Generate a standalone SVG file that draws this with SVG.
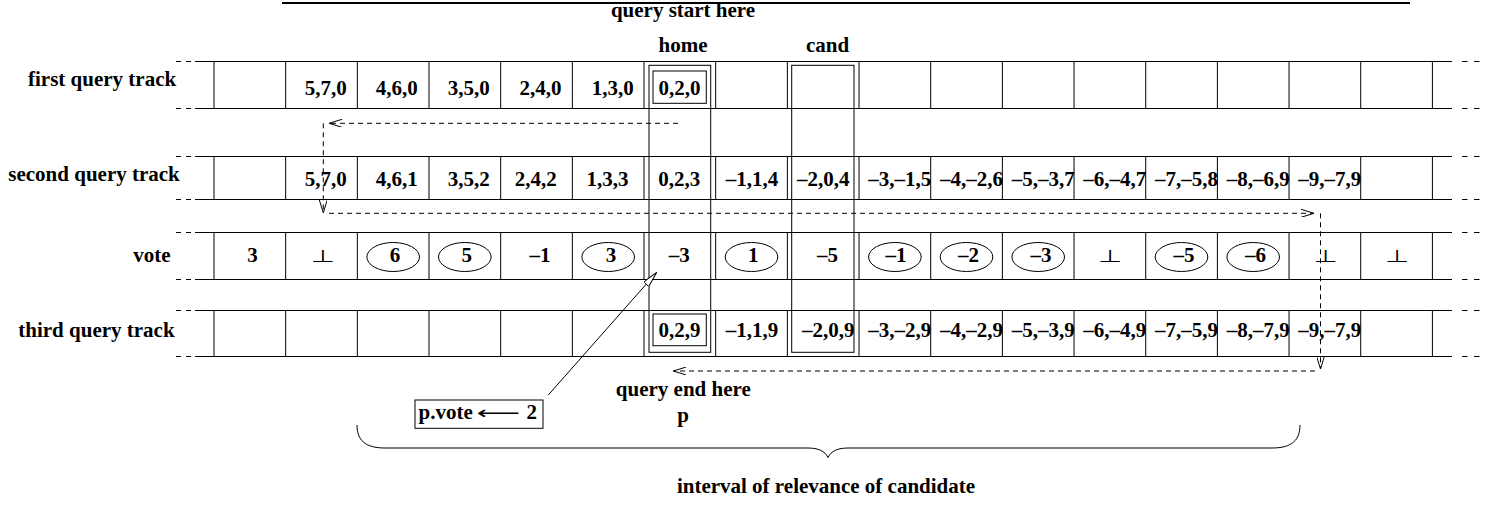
<svg xmlns="http://www.w3.org/2000/svg" width="1498" height="507" viewBox="0 0 1498 507">
  <style>
    .t { font-family: "Liberation Serif", "Times New Roman", serif; font-weight: bold; font-size: 21px; fill: #000; }
    .m { text-anchor: middle; }
    .bot { font-family: "DejaVu Sans", sans-serif; font-weight: normal; font-size: 19px; fill: #000; text-anchor: middle; }
    .cell { fill: none; stroke: #000; stroke-width: 1; }
    .ext { fill: none; stroke: #000; stroke-width: 1; }
    .col { fill: none; stroke: #000; stroke-width: 1; }
    .dash { fill: none; stroke: #000; stroke-width: 1; stroke-dasharray: 5 4; }
    .ell { fill: #fff; stroke: #000; stroke-width: 1; }
  </style>
  <defs>
    <marker id="open" viewBox="0 0 13 8" refX="13" refY="4" markerWidth="13" markerHeight="8" markerUnits="userSpaceOnUse" orient="auto">
      <path d="M0,0 L13,4 L0,8" fill="none" stroke="#000" stroke-width="1"/>
    </marker>
    <marker id="hollow" viewBox="0 0 16 7" refX="16" refY="3.5" markerWidth="16" markerHeight="7" markerUnits="userSpaceOnUse" orient="auto">
      <path d="M0,0 L16,3.5 L0,7 Z" fill="#fff" stroke="#000" stroke-width="1"/>
    </marker>
    <!-- cell dividers shared by all four tracks (relative to track top) -->
    <path id="dividers" d="M285.67,0 V1 M357.34,0 V1 M429.01,0 V1 M500.68,0 V1 M572.35,0 V1 M644.02,0 V1 M715.69,0 V1 M787.36,0 V1 M859.03,0 V1 M930.7,0 V1 M1002.37,0 V1 M1074.04,0 V1 M1145.71,0 V1 M1217.38,0 V1 M1289.05,0 V1 M1360.72,0 V1"/>
    <!-- dashed continuation of a track edge on both sides -->
    <path id="edge" d="M176,0 h5 M186,0 h5 M195,0 H214 M1432.4,0 H1452 M1462,0 h5.5 M1474,0 h5.5"/>
  </defs>

  <!-- heading rule -->
  <line x1="282" y1="3" x2="1410" y2="3" stroke="#000" stroke-width="2"/>
  <text class="t m" x="683" y="17">query start here</text>
  <text class="t m" x="683" y="52.3">home</text>
  <text class="t m" x="827.5" y="52.3">cand</text>

  <!-- first query track -->
  <g id="track-first">
    <text class="t" x="28" y="85.5">first query track</text>
    <use href="#edge" class="ext" transform="translate(0,61.5)"/>
    <use href="#edge" class="ext" transform="translate(0,108.5)"/>
    <rect class="cell" x="214" y="61.5" width="1218.4" height="47"/>
    <use href="#dividers" class="cell" transform="translate(0,61.5) scale(1,47)" style="stroke-width:1;vector-effect:non-scaling-stroke"/>
    <text class="t m" x="325.8" y="95">5,7,0</text>
    <text class="t m" x="396.8" y="95">4,6,0</text>
    <text class="t m" x="468.8" y="95">3,5,0</text>
    <text class="t m" x="540.5" y="95">2,4,0</text>
    <text class="t m" x="612.8" y="95">1,3,0</text>
    <rect class="col" x="653" y="71" width="53.3" height="32.3"/>
    <text class="t m" x="679.5" y="95">0,2,0</text>
  </g>

  <!-- second query track -->
  <g id="track-second">
    <text class="t" x="8.3" y="180.7">second query track</text>
    <use href="#edge" class="ext" transform="translate(0,156.5)"/>
    <use href="#edge" class="ext" transform="translate(0,199.5)"/>
    <rect class="cell" x="214" y="156.5" width="1218.4" height="43"/>
    <use href="#dividers" class="cell" transform="translate(0,156.5) scale(1,43)" style="stroke-width:1;vector-effect:non-scaling-stroke"/>
    <text class="t m" x="325.8" y="186">5,7,0</text>
    <text class="t m" x="396.7" y="186">4,6,1</text>
    <text class="t m" x="468.8" y="186">3,5,2</text>
    <text class="t m" x="535.8" y="186">2,4,2</text>
    <text class="t m" x="607.5" y="186">1,3,3</text>
    <text class="t m" x="679.3" y="186">0,2,3</text>
    <text class="t m" x="752" y="186">–1,1,4</text>
    <text class="t m" x="823.3" y="186">–2,0,4</text>
    <text class="t" x="868.3" y="186">–3,–1,5</text>
    <text class="t" x="940" y="186">–4,–2,6</text>
    <text class="t" x="1011.7" y="186">–5,–3,7</text>
    <text class="t" x="1083.3" y="186">–6,–4,7</text>
    <text class="t" x="1155" y="186">–7,–5,8</text>
    <text class="t" x="1226.7" y="186">–8,–6,9</text>
    <text class="t" x="1298.3" y="186">–9,–7,9</text>
  </g>

  <!-- vote track -->
  <g id="track-vote">
    <text class="t" x="133.3" y="261.7">vote</text>
    <use href="#edge" class="ext" transform="translate(0,232.5)"/>
    <use href="#edge" class="ext" transform="translate(0,279.5)"/>
    <rect class="cell" x="214" y="232.5" width="1218.4" height="47"/>
    <use href="#dividers" class="cell" transform="translate(0,232.5) scale(1,47)" style="stroke-width:1;vector-effect:non-scaling-stroke"/>
    <ellipse class="ell" cx="393.2" cy="257" rx="26.3" ry="14.5"/>
    <ellipse class="ell" cx="464.8" cy="257" rx="26.3" ry="14.5"/>
    <ellipse class="ell" cx="608.2" cy="257" rx="26.3" ry="14.5"/>
    <ellipse class="ell" cx="751.5" cy="257" rx="26.3" ry="14.5"/>
    <ellipse class="ell" cx="894.9" cy="257" rx="26.3" ry="14.5"/>
    <ellipse class="ell" cx="966.5" cy="257" rx="26.3" ry="14.5"/>
    <ellipse class="ell" cx="1038.2" cy="257" rx="26.3" ry="14.5"/>
    <ellipse class="ell" cx="1181.5" cy="257" rx="26.3" ry="14.5"/>
    <ellipse class="ell" cx="1253.2" cy="257" rx="26.3" ry="14.5"/>
    <text class="t m" x="252.5" y="261.7">3</text>
    <text class="bot" transform="translate(323.3,262) scale(1.45,0.9)">⊥</text>
    <text class="t m" x="395" y="261.7">6</text>
    <text class="t m" x="466.7" y="261.7">5</text>
    <text class="t m" x="540" y="261.7">–1</text>
    <text class="t m" x="611" y="261.7">3</text>
    <text class="t m" x="679.2" y="261.7">–3</text>
    <text class="t m" x="753.3" y="261.7">1</text>
    <text class="t m" x="827.5" y="261.7">–5</text>
    <text class="t m" x="896" y="261.7">–1</text>
    <text class="t m" x="968.5" y="261.7">–2</text>
    <text class="t m" x="1041" y="261.7">–3</text>
    <text class="bot" transform="translate(1110.5,262) scale(1.45,0.9)">⊥</text>
    <text class="t m" x="1184" y="261.7">–5</text>
    <text class="t m" x="1255.5" y="261.7">–6</text>
    <text class="bot" transform="translate(1326,262) scale(1.45,0.9)">⊥</text>
    <text class="bot" transform="translate(1397.5,262) scale(1.45,0.9)">⊥</text>
  </g>

  <!-- third query track -->
  <g id="track-third">
    <text class="t" x="18.3" y="336.7">third query track</text>
    <use href="#edge" class="ext" transform="translate(0,310.5)"/>
    <use href="#edge" class="ext" transform="translate(0,356.5)"/>
    <rect class="cell" x="214" y="310.5" width="1218.4" height="46"/>
    <use href="#dividers" class="cell" transform="translate(0,310.5) scale(1,46)" style="stroke-width:1;vector-effect:non-scaling-stroke"/>
    <rect class="col" x="653" y="314" width="53.3" height="31.7"/>
    <text class="t m" x="679.5" y="336.7">0,2,9</text>
    <text class="t m" x="752" y="336.7">–1,1,9</text>
    <text class="t m" x="828.3" y="336.7">–2,0,9</text>
    <text class="t" x="868.3" y="336.7">–3,–2,9</text>
    <text class="t" x="940" y="336.7">–4,–2,9</text>
    <text class="t" x="1011.7" y="336.7">–5,–3,9</text>
    <text class="t" x="1083.3" y="336.7">–6,–4,9</text>
    <text class="t" x="1155" y="336.7">–7,–5,9</text>
    <text class="t" x="1226.7" y="336.7">–8,–7,9</text>
    <text class="t" x="1298.3" y="336.7">–9,–7,9</text>
  </g>

  <!-- home and candidate columns spanning all tracks -->
  <g id="home-column">
    <rect class="col" x="649" y="65.3" width="61.7" height="287"/>
  </g>
  <g id="cand-column">
    <rect class="col" x="791.7" y="65.3" width="62.3" height="287"/>
  </g>

  <!-- assignment note -->
  <g id="vote-note">
    <rect class="cell" x="415" y="400" width="128" height="28.3"/>
    <text class="t" x="418.5" y="419">p.vote</text>
    <text x="476.5" y="419" font-family="DejaVu Sans, sans-serif" font-size="18" textLength="43.5" lengthAdjust="spacingAndGlyphs">⟵</text>
    <text class="t" x="526.5" y="419">2</text>
  </g>

  <g id="query-end">
    <text class="t m" x="683.3" y="396">query end here</text>
    <text class="t m" x="683" y="422">p</text>
  </g>

  <!-- relevance interval brace -->
  <g id="interval">
    <path d="M357,425 C357,440 365,448 385,448 L808,448 C818,448 825,451 828,457.5 C831,451 838,448 848,448 L1272,448 C1292,448 1300,440 1300,425" fill="none" stroke="#000" stroke-width="1"/>
    <text class="t m" x="826" y="493">interval of relevance of candidate</text>
  </g>

  <!-- query path and pointer -->
  <g id="connectors">
    <line class="dash" x1="678" y1="123.3" x2="329" y2="123.3" marker-end="url(#open)"/>
    <line class="dash" x1="323.3" y1="123.3" x2="323.3" y2="212.8" marker-end="url(#open)"/>
    <line class="dash" x1="329" y1="213.3" x2="1314" y2="213.3" marker-end="url(#open)"/>
    <line class="dash" x1="1320.5" y1="213.3" x2="1320.5" y2="369" marker-end="url(#open)"/>
    <line class="dash" x1="1315" y1="371" x2="673.3" y2="371" marker-end="url(#open)"/>
    <line x1="548.3" y1="395" x2="656.7" y2="272.3" stroke="#000" stroke-width="1" marker-end="url(#hollow)"/>
  </g>
</svg>
